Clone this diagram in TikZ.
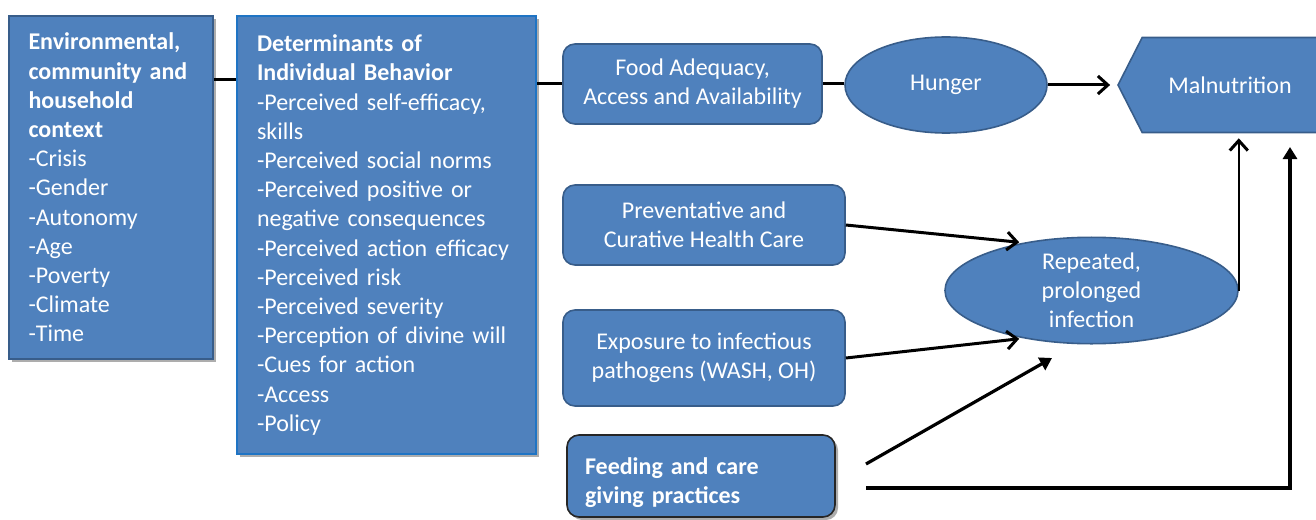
\documentclass[tikz,border=0pt]{standalone}
\usepackage{fontspec}
\setmainfont{Carlito}
\usetikzlibrary{positioning, arrows.meta, shapes.geometric, shapes.symbols, shadows}
\definecolor{boxblue}{HTML}{4F81BD}
\definecolor{edgeblue}{HTML}{385D8A}
\definecolor{brightblue}{HTML}{1F74C4}

\begin{document}
\begin{tikzpicture}[x=0.5pt, y=-0.5pt,
  every node/.style={font=\fontsize{12}{14.6}\selectfont, text=white},
  blockbox/.style={draw=edgeblue, line width=1pt, fill=boxblue, inner xsep=10pt, align=left},
  roundbox/.style={draw=edgeblue, line width=0.8pt, fill=boxblue, rounded corners=6pt, align=center},
  oval/.style={ellipse, draw=edgeblue, line width=0.8pt, fill=boxblue, align=center, inner sep=0pt},
  shade/.style={drop shadow={shadow xshift=1.5pt, shadow yshift=-1.5pt, fill=gray!80, opacity=0.8}},
  link/.style={line width=1.5pt},
  barb/.style={line width=1.5pt, -{Straight Barb[length=5pt, width=9pt]}},
  thinbarb/.style={line width=1.1pt, -{Straight Barb[length=5pt, width=9pt, line width=1.5pt]}},
  solidhead/.style={line width=1.6pt, -{Triangle[length=6pt, width=7pt]}}
]
\useasboundingbox (0,0) rectangle (1316,519);

% left column
\node[blockbox, shade, text width=82pt, minimum height=171.5pt] (context) at (110.5,187.5)
  {{\bfseries Environmental,\\ community and\\ household\\ context}\\
   -Crisis\\ -Gender\\ -Autonomy\\ -Age\\ -Poverty\\ -Climate\\ -Time};
\node[blockbox, shade, draw=brightblue, text width=129.5pt, minimum height=219pt] (determinants) at (386.5,235)
  {{\bfseries Determinants of\\ Individual Behavior}\\
   -Perceived self-efficacy,\\ skills\\ -Perceived social norms\\
   -Perceived positive or\\ negative consequences\\
   -Perceived action efficacy\\ -Perceived risk\\ -Perceived severity\\
   -Perception of divine will\\ -Cues for action\\ -Access\\ -Policy};

% middle column
\node[roundbox, minimum width=129.5pt, minimum height=40pt] (food) at (692.5,84)
  {Food Adequacy,\\ Access and Availability};
\node[roundbox, minimum width=141pt, minimum height=40pt] (healthcare) at (704,225)
  {Preventative and\\ Curative Health Care};
\node[roundbox, minimum width=141pt, minimum height=48pt] (exposure) at (704,358)
  {Exposure to infectious\\ pathogens (WASH, OH)};
\node[roundbox, shade, draw=black!85, align=left, text width=116pt, inner xsep=9pt,
  minimum height=41pt] (feeding) at (701,476)
  {\bfseries\rule{0pt}{15pt}Feeding and care\\ giving practices};

% outcomes
\node[oval, minimum width=101pt, minimum height=48pt] (hunger) at (946,85) {Hunger};
\node[oval, minimum width=146.5pt, minimum height=52pt] (infection) at (1091.5,290.5)
  {Repeated,\\ prolonged\\ infection};
\node[signal, signal to=west and east, signal pointer angle=126, draw=edgeblue,
  line width=0.8pt, fill=boxblue, minimum width=112pt, minimum height=47.5pt,
  inner sep=0pt] (malnutrition) at (1230,85) {Malnutrition};

\coordinate (row) at (0,80);
\coordinate (feedup) at (866,464);
\coordinate (feedtip) at (1052,358);
\coordinate (feedright) at (866,488);
\coordinate (maltip) at (1290,147);

\draw[link] (context.east |- row) -- (determinants.west |- row);
\draw[link] (determinants.east |- food.west) -- (food.west);
\draw[link] (food.east) -- (food.east -| hunger.west);
\draw[barb, shorten >=3.5pt] (hunger.east) -- (malnutrition.west);
\draw[barb, shorten >=2pt] (healthcare.east) -- (infection.145);
\draw[barb, shorten >=2pt] (exposure.east) -- (infection.215);
\draw[solidhead] (feedup) -- (feedtip);
\draw[thinbarb, shorten >=2.5pt] (infection.east) -- (infection.east |- malnutrition.south);
\draw[solidhead] (feedright) -| (maltip);
\end{tikzpicture}
\end{document}
